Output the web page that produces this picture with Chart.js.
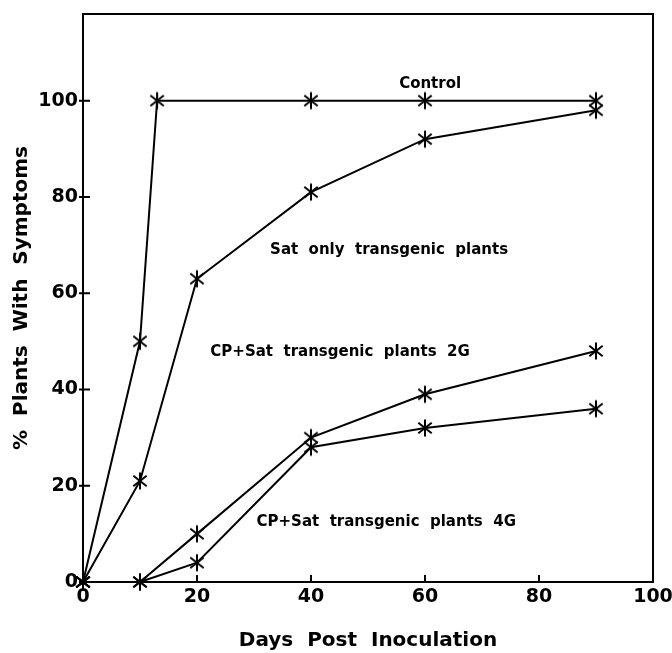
<!DOCTYPE html>
<html>
<head>
<meta charset="utf-8">
<script src="https://cdn.jsdelivr.net/npm/chart.js@4.4.1/dist/chart.umd.min.js"></script>
<style>
html,body{margin:0;padding:0;background:#fff;}
#wrap{width:672px;height:653px;position:relative;}
</style>
</head>
<body>
<div id="wrap"><canvas id="c" width="672" height="653"></canvas></div>
<script>
// ---- data ----
const controlDays = [0, 10, 13, 40, 60, 90];
const controlValues = [0, 50, 100, 100, 100, 100];
const days = [0, 10, 20, 40, 60, 90];
const satOnlyValues = [0, 21, 63, 81, 92, 98];
const cpSat2GValues = [0, 0, 10, 30, 39, 48];
const cpSat4GValues = [0, 0, 4, 28, 32, 36];
const seriesNames = ["Control", "Sat only transgenic plants", "CP+Sat transgenic plants 2G", "CP+Sat transgenic plants 4G"];
const xTicks = [0, 20, 40, 60, 80, 100];
const yTicks = [0, 20, 40, 60, 80, 100];

// asterisk marker
function makeAsterisk() {
  const s = 20, c = document.createElement('canvas');
  c.width = s; c.height = s;
  const g = c.getContext('2d');
  g.strokeStyle = '#000'; g.lineWidth = 2; g.lineCap = 'butt';
  const r = 8.5, cx = s / 2, cy = s / 2;
  [90, 38, 142].forEach(a => {
    const t = a * Math.PI / 180;
    g.beginPath();
    g.moveTo(cx - r * Math.cos(t), cy - r * Math.sin(t));
    g.lineTo(cx + r * Math.cos(t), cy + r * Math.sin(t));
    g.stroke();
  });
  return c;
}
const star = makeAsterisk();

function toXY(xs, ys) { return xs.map((x, i) => ({ x: x, y: ys[i] })); }

const font = "'DejaVu Sans', 'Liberation Sans', sans-serif";

const annotations = [
  { text: "Control", x: 60.9, y: 103.5 },
  { text: "Sat  only  transgenic  plants", x: 53.7, y: 69 },
  { text: "CP+Sat  transgenic  plants  2G", x: 45.1, y: 47.7 },
  { text: "CP+Sat  transgenic  plants  4G", x: 53.2, y: 12.4 }
];

const framePlugin = {
  id: 'frame',
  afterDraw(chart) {
    const { ctx, chartArea: a, scales } = chart;
    ctx.save();
    ctx.strokeStyle = '#000';
    ctx.lineWidth = 2;
    ctx.strokeRect(a.left, a.top, a.right - a.left, a.bottom - a.top);
    ctx.beginPath();
    xTicks.forEach(v => {
      const px = scales.x.getPixelForValue(v);
      ctx.moveTo(px, a.bottom); ctx.lineTo(px, a.bottom - 7);
    });
    yTicks.forEach(v => {
      const py = scales.y.getPixelForValue(v);
      ctx.moveTo(a.left - 4, py); ctx.lineTo(a.left + 7, py);
    });
    ctx.stroke();
    ctx.fillStyle = '#000';
    ctx.font = 'bold 15px ' + font;
    ctx.textAlign = 'center';
    ctx.textBaseline = 'middle';
    annotations.forEach(t => {
      ctx.fillText(t.text, scales.x.getPixelForValue(t.x), scales.y.getPixelForValue(t.y));
    });
    ctx.restore();
  }
};

function ds(label, data) {
  return {
    label: label,
    data: data,
    borderColor: '#000',
    backgroundColor: '#000',
    borderWidth: 2,
    pointStyle: star,
    pointRadius: 8,
    pointHoverRadius: 8,
    showLine: true,
    tension: 0,
    clip: false
  };
}

new Chart(document.getElementById('c'), {
  type: 'scatter',
  data: {
    datasets: [
      ds(seriesNames[0], toXY(controlDays, controlValues)),
      ds(seriesNames[1], toXY(days, satOnlyValues)),
      ds(seriesNames[2], toXY(days, cpSat2GValues)),
      ds(seriesNames[3], toXY(days, cpSat4GValues))
    ]
  },
  options: {
    responsive: false,
    animation: false,
    devicePixelRatio: 1,
    layout: { padding: { top: 14, right: 19, left: 0, bottom: 0 } },
    plugins: { legend: { display: false }, tooltip: { enabled: false } },
    scales: {
      x: {
        type: 'linear', min: 0, max: 100,
        afterBuildTicks(s) { s.ticks = xTicks.map(v => ({ value: v })); },
        afterFit(s) { s.height = 71; s.paddingLeft = 0; s.paddingRight = 0; },
        grid: { display: false, drawTicks: false },
        border: { display: false },
        ticks: { color: '#000', font: { family: font, size: 19, weight: 'bold' }, padding: 4, maxRotation: 0 },
        title: { display: true, text: 'Days  Post  Inoculation', color: '#000', font: { family: font, size: 20, weight: 'bold' }, padding: { top: 0, bottom: 0 } }
      },
      y: {
        type: 'linear', min: 0, max: 118,
        afterBuildTicks(s) { s.ticks = yTicks.map(v => ({ value: v })); },
        afterFit(s) { s.width = 83; s.paddingTop = 0; s.paddingBottom = 0; },
        grid: { display: false, drawTicks: false },
        border: { display: false },
        ticks: { color: '#000', font: { family: font, size: 19, weight: 'bold' }, padding: 5 },
        title: { display: true, text: '%  Plants  With  Symptoms', color: '#000', font: { family: font, size: 20, weight: 'bold' }, padding: { top: 10, bottom: 0 } }
      }
    }
  },
  plugins: [framePlugin]
});
</script>
</body>
</html>
